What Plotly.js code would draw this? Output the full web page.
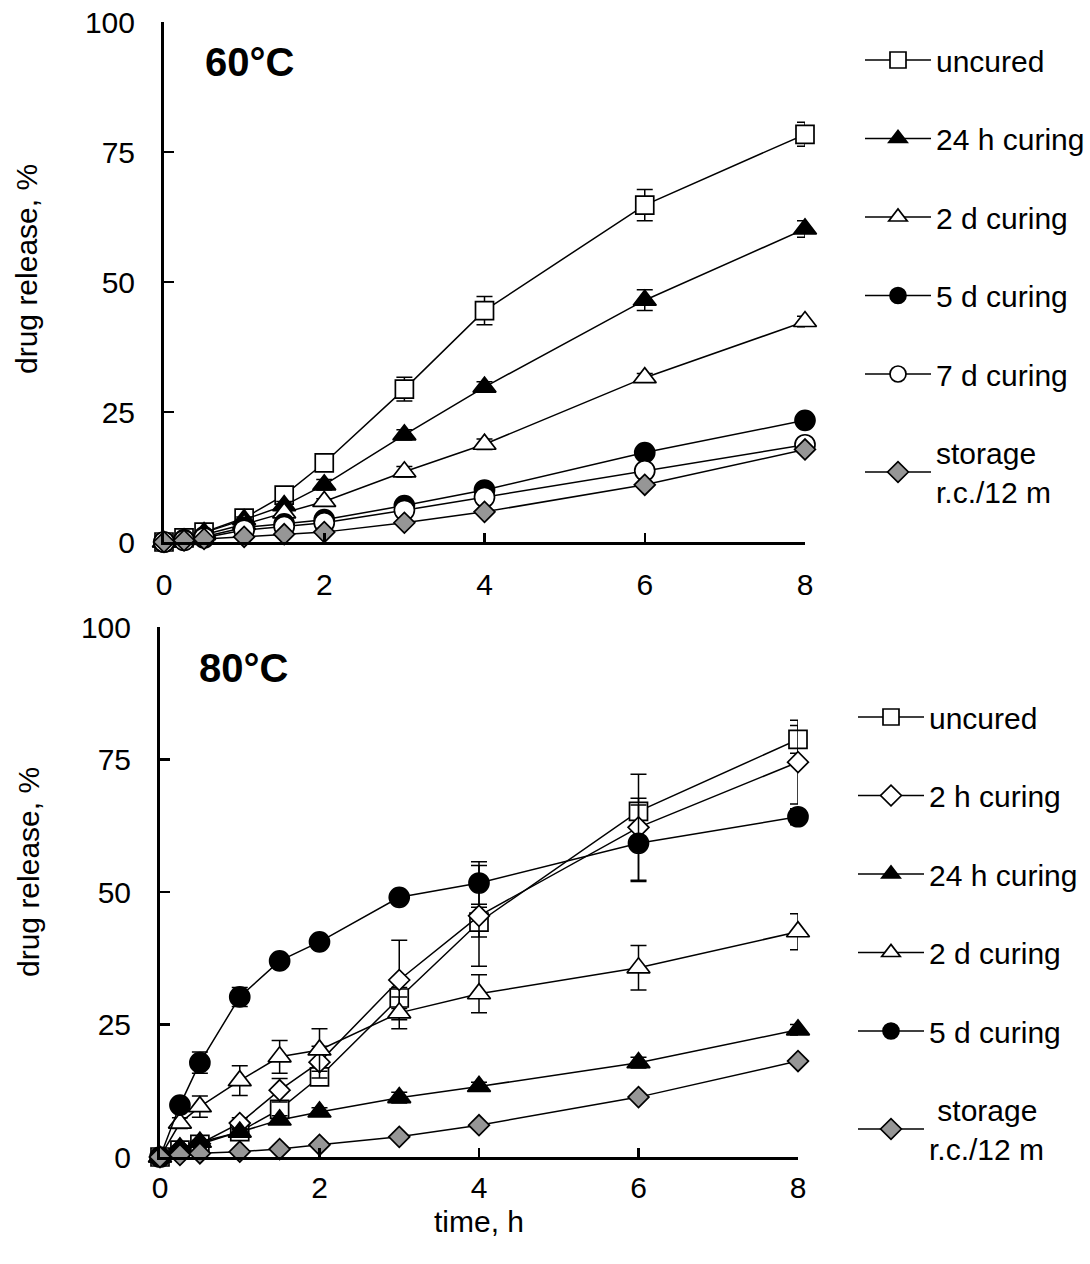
<!DOCTYPE html>
<html>
<head>
<meta charset="utf-8">
<script src="https://cdn.plot.ly/plotly-3.0.1.min.js"></script>
<style>html,body{margin:0;padding:0;background:#fff;}</style>
</head>
<body>
<div id="chart" style="width:1090px;height:1264px;"></div>
<script>
// time points (h)
var timeH = [0, 0.25, 0.5, 1, 1.5, 2, 3, 4, 6, 8];

// 60 °C panel
var uncured60 = [0, 0.8, 1.9, 4.6, 9.0, 15.2, 29.4, 44.5, 64.8, 78.4];
var uncured60Err = [0, 0.3, 0.3, 0.5, 1.0, 0.8, 2.3, 2.7, 3.0, 2.3];
var cure24h60 = [0, 0.6, 1.8, 4.3, 7.0, 11.0, 20.6, 29.8, 46.5, 60.2];
var cure24h60Err = [0, 0.2, 0.3, 0.5, 0.8, 1.0, 1.0, 1.0, 2.0, 1.6];
var cure2d60 = [0, 0.5, 1.4, 3.4, 5.6, 7.8, 13.5, 18.8, 31.6, 42.4];
var cure2d60Err = [0, 0, 0.2, 0.3, 0.5, 0.5, 1.0, 1.0, 0.8, 1.0];
var cure5d60 = [0, 0.4, 1.0, 2.8, 3.5, 4.3, 7.0, 10.0, 17.2, 23.4];
var cure5d60Err = [0, 0, 0.1, 0.2, 0.3, 0.3, 0.5, 0.5, 0.5, 0.5];
var cure7d60 = [0, 0.3, 0.8, 2.3, 3.0, 3.7, 6.1, 8.6, 13.7, 18.7];
var cure7d60Err = [0, 0, 0.1, 0.2, 0.3, 0.3, 0.5, 0.5, 0.5, 0.5];
var storage60 = [0, 0.3, 0.6, 1.0, 1.5, 1.9, 3.7, 5.8, 11.0, 17.8];

// 80 °C panel
var uncured80 = [0, 1.3, 2.4, 4.8, 9.0, 15.1, 30.0, 44.3, 65.2, 78.8];
var uncured80Err = [0, 0.3, 0.5, 0.8, 1.2, 1.0, 2.0, 2.8, 2.5, 2.6];
var cure2h80 = [0, 1.5, 2.5, 6.4, 12.6, 17.9, 33.4, 45.5, 62.2, 74.5];
var cure2h80Err = [0, 0.3, 0.5, 1.0, 2.2, 3.0, 7.5, 9.5, 10.0, 7.9];
var cure24h80 = [0, 1.7, 2.8, 4.7, 7.0, 8.5, 11.2, 13.3, 17.8, 24.0];
var cure24h80Err = [0, 0.3, 0.3, 0.5, 0.8, 0.8, 1.0, 0.8, 1.0, 1.0];
var cure2d80 = [0, 6.4, 9.5, 14.4, 18.9, 20.2, 27.2, 30.8, 35.7, 42.5];
var cure2d80Err = [0, 1.0, 2.0, 2.8, 3.1, 4.0, 3.0, 3.6, 4.2, 3.4];
var cure5d80 = [0, 9.8, 17.8, 30.2, 37.0, 40.6, 49.0, 51.7, 59.2, 64.2];
var cure5d80Err = [0, 0.5, 2.0, 1.8, 0.8, 0.8, 0.8, 4.0, 7.2, 1.5];
var storage80 = [0, 0.4, 0.7, 1.0, 1.5, 2.3, 3.8, 6.0, 11.3, 18.1];

// axis ticks
var xTicks = [0, 2, 4, 6, 8];
var yTicks = [0, 25, 50, 75, 100];

var FONT = "Liberation Sans, Arial, Helvetica, sans-serif";
var GREY = "#969696";

function tr(name, y, err, symbol, fill, xa, ya, leg, grp, size) {
  var t = {
    type: "scatter", mode: "lines+markers",
    x: timeH, y: y, name: name,
    xaxis: xa, yaxis: ya, legend: leg, legendgroup: grp,
    cliponaxis: false,
    line: {color: "black", width: 1.5},
    marker: {symbol: symbol, size: size, color: fill, line: {color: "black", width: 1.7}}
  };
  if (err) {
    t.error_y = {type: "data", array: err, visible: true, color: "black", thickness: 1.5, width: 8};
  }
  return t;
}

var data = [
  tr("uncured", uncured60, uncured60Err, "square", "white", "x", "y", "legend", "a1", 18),
  tr("24 h curing", cure24h60, cure24h60Err, "triangle-up", "black", "x", "y", "legend", "a2", 20),
  tr("2 d curing", cure2d60, cure2d60Err, "triangle-up", "white", "x", "y", "legend", "a3", 20),
  tr("5 d curing", cure5d60, cure5d60Err, "circle", "black", "x", "y", "legend", "a4", 20),
  tr("7 d curing", cure7d60, cure7d60Err, "circle", "white", "x", "y", "legend", "a5", 20),
  tr("storage<br>r.c./12 m", storage60, null, "diamond", GREY, "x", "y", "legend", "a6", 16),

  tr("uncured", uncured80, uncured80Err, "square", "white", "x2", "y2", "legend2", "b1", 18),
  tr("2 h curing", cure2h80, cure2h80Err, "diamond", "white", "x2", "y2", "legend2", "b2", 16),
  tr("24 h curing", cure24h80, cure24h80Err, "triangle-up", "black", "x2", "y2", "legend2", "b3", 20),
  tr("2 d curing", cure2d80, cure2d80Err, "triangle-up", "white", "x2", "y2", "legend2", "b4", 20),
  tr("5 d curing", cure5d80, cure5d80Err, "circle", "black", "x2", "y2", "legend2", "b5", 20),
  tr("\u00a0storage<br>r.c./12 m", storage80, null, "diamond", GREY, "x2", "y2", "legend2", "b6", 16)
];

function xax(domain, anchor, standoff) {
  return {
    domain: domain, anchor: anchor, range: [0, 8], tickvals: xTicks, ticktext: xTicks.map(String),
    ticks: "inside", ticklen: 9, tickwidth: 2.5, tickcolor: "black",
    showline: true, linewidth: 3, linecolor: "black", mirror: false,
    showgrid: false, zeroline: false, fixedrange: true,
    tickfont: {family: FONT, size: 30, color: "black"}, ticklabelstandoff: standoff
  };
}
function yax(domain, anchor) {
  return {
    domain: domain, anchor: anchor, range: [0, 100], tickvals: yTicks, ticktext: yTicks.map(String),
    ticks: "inside", ticklen: 10, tickwidth: 2.5, tickcolor: "black",
    showline: true, linewidth: 3, linecolor: "black",
    showgrid: false, zeroline: false, fixedrange: true,
    tickfont: {family: FONT, size: 30, color: "black"}, ticklabelstandoff: 20
  };
}

var legendBase = {
  xanchor: "left", yanchor: "top", bgcolor: "rgba(0,0,0,0)",
  font: {family: FONT, size: 30, color: "black"},
  tracegroupgap: 36.5, itemwidth: 66, itemclick: false, itemdoubleclick: false
};

var layout = {
  width: 1090, height: 1264,
  margin: {l: 0, r: 0, t: 0, b: 0},
  paper_bgcolor: "white", plot_bgcolor: "white",
  font: {family: FONT, size: 30, color: "black"},
  showlegend: true,
  xaxis: xax([164/1090, 805/1090], "y", 14),
  yaxis: yax([1 - 542/1264, 1 - 22/1264], "x"),
  xaxis2: Object.assign(xax([160/1090, 798/1090], "y2", 2), {
    title: {text: "time, h", font: {family: FONT, size: 30, color: "black"}, standoff: 8}
  }),
  yaxis2: yax([1 - 1157/1264, 1 - 627/1264], "x2"),
  legend: Object.assign({x: 860/1090, y: 1 - 34/1264}, legendBase),
  legend2: Object.assign({x: 853/1090, y: 1 - 691/1264}, legendBase),
  annotations: [
    {text: "<b>60°C</b>", xref: "paper", yref: "paper", x: 249/1090, y: 1 - 62/1264,
     xanchor: "center", yanchor: "middle",
     showarrow: false, font: {family: FONT, size: 40, color: "black"}},
    {text: "<b>80°C</b>", xref: "paper", yref: "paper", x: 243/1090, y: 1 - 668/1264,
     xanchor: "center", yanchor: "middle",
     showarrow: false, font: {family: FONT, size: 40, color: "black"}},
    {text: "drug release, %", xref: "paper", yref: "paper", x: 26/1090, y: 1 - 269/1264,
     xanchor: "center", yanchor: "middle",
     textangle: -90, showarrow: false, font: {family: FONT, size: 30, color: "black"}},
    {text: "drug release, %", xref: "paper", yref: "paper", x: 28/1090, y: 1 - 872/1264,
     xanchor: "center", yanchor: "middle",
     textangle: -90, showarrow: false, font: {family: FONT, size: 30, color: "black"}}
  ]
};

Plotly.newPlot("chart", data, layout, {displayModeBar: false, staticPlot: true});
</script>
</body>
</html>
